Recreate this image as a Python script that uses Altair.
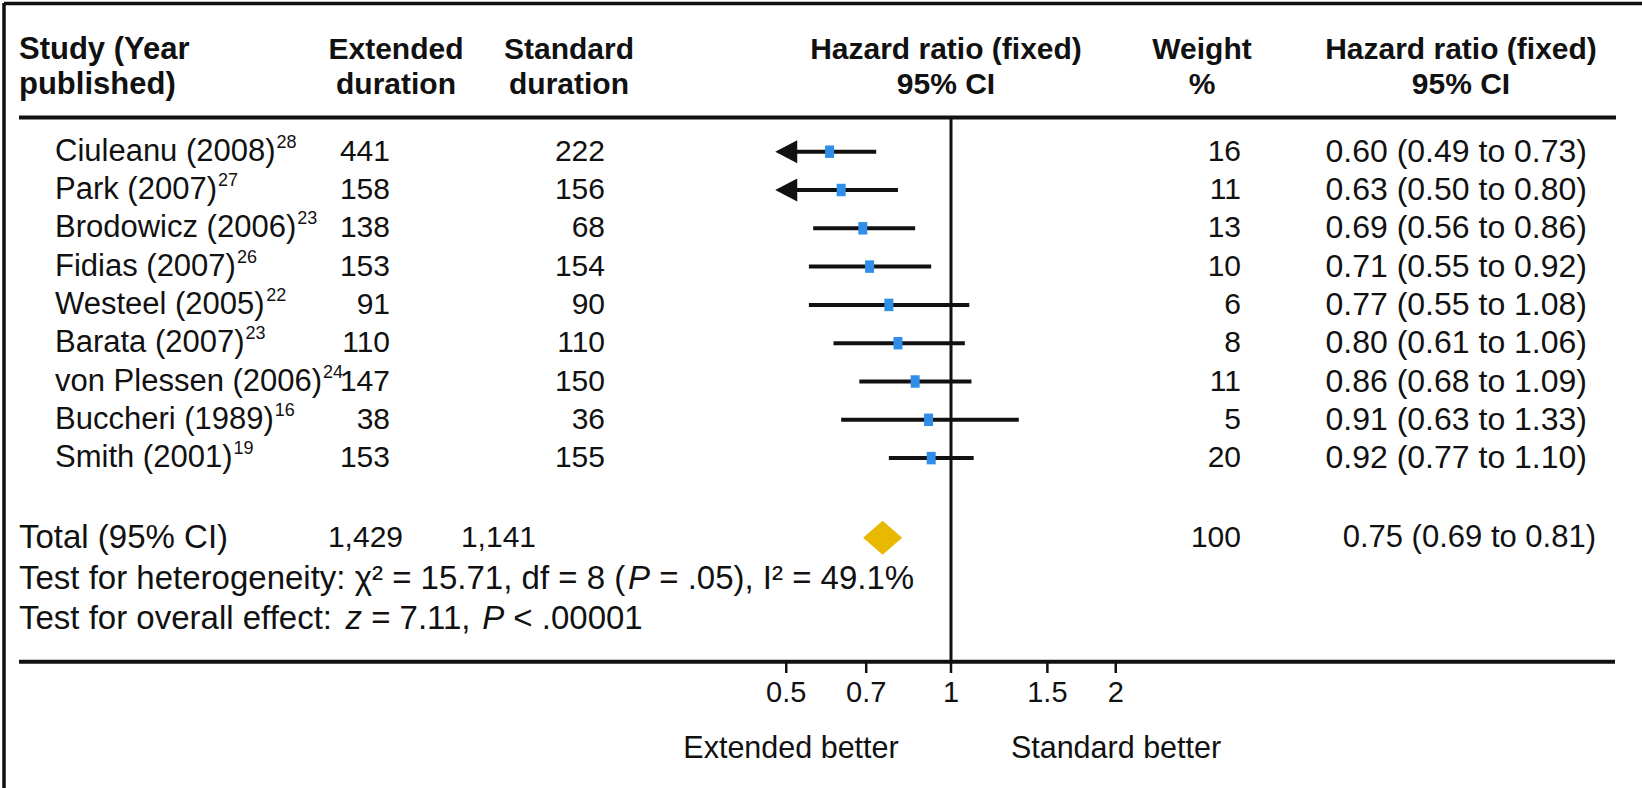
import math
import altair as alt
import pandas as pd

# ---------------- data ----------------
study_names = ["Ciuleanu (2008)", "Park (2007)", "Brodowicz (2006)", "Fidias (2007)",
               "Westeel (2005)", "Barata (2007)", "von Plessen (2006)", "Buccheri (1989)",
               "Smith (2001)"]
study_refs = ["28", "27", "23", "26", "22", "23", "24", "16", "19"]
extended_n = ["441", "158", "138", "153", "91", "110", "147", "38", "153"]
standard_n = ["222", "156", "68", "154", "90", "110", "150", "36", "155"]
hazard = [0.60, 0.63, 0.69, 0.71, 0.77, 0.80, 0.86, 0.91, 0.92]
ci_low = [0.49, 0.50, 0.56, 0.55, 0.55, 0.61, 0.68, 0.63, 0.77]
ci_high = [0.73, 0.80, 0.86, 0.92, 1.08, 1.06, 1.09, 1.33, 1.10]
weights = ["16", "11", "13", "10", "6", "8", "11", "5", "20"]
hr_text = ["0.60 (0.49 to 0.73)", "0.63 (0.50 to 0.80)", "0.69 (0.56 to 0.86)",
           "0.71 (0.55 to 0.92)", "0.77 (0.55 to 1.08)", "0.80 (0.61 to 1.06)",
           "0.86 (0.68 to 1.09)", "0.91 (0.63 to 1.33)", "0.92 (0.77 to 1.10)"]
total_label = "Total (95% CI)"
total_ext = "1,429"
total_std = "1,141"
total_weight = "100"
total_hr = [0.75]
total_text = "0.75 (0.69 to 0.81)"
tick_values = [0.5, 0.7, 1, 1.5, 2]
tick_labels = ["0.5", "0.7", "1", "1.5", "2"]
axis_min = 0.5

# ---------------- layout ----------------
W, H = 1642, 788
ONE_PX, PX_PER_LN = 951.0, 237.7
ROW0, ROW_H = 151.7, 38.3
FONT = "Liberation Sans, Arial, Helvetica, sans-serif"
FS = 30
NAME_FS = 31
INK = "#111111"
LEFT = 19
NAME_X = 55

# Arial / Liberation Sans advance widths (per em)
AW = {" ": .278, "%": .889, "(": .333, ")": .333, ",": .278, ".": .278, ":": .278, "=": .584,
      "<": .584, "B": .667, "C": .722, "F": .611, "I": .278, "P": .667, "S": .667, "T": .611, "W": .944,
      "a": .556, "b": .556, "c": .5, "d": .556, "e": .556, "f": .278, "g": .556, "h": .556, "i": .222,
      "k": .5, "l": .222, "m": .833, "n": .556, "o": .556, "r": .333, "s": .5, "t": .278, "u": .556,
      "v": .5, "w": .722, "y": .5, "z": .5, "²": .333, "χ": .5}
def tw(s, size):
    return sum(AW.get(c, .556) for c in s) * size

xs = alt.Scale(type="log", domain=[math.exp(-ONE_PX / PX_PER_LN), math.exp((W - ONE_PX) / PX_PER_LN)],
               nice=False, zero=False)
ys = alt.Scale(domain=[-ROW0 / ROW_H, (H - ROW0) / ROW_H], reverse=True, nice=False, zero=False)

rows = list(range(len(study_names)))
df = pd.DataFrame({
    "row": rows, "study": study_names, "ref": study_refs, "ext": extended_n, "std": standard_n,
    "hr": hazard, "lo": ci_low, "hi": ci_high, "w": weights, "txt": hr_text,
})
df["arrow"] = df["lo"] <= axis_min
df["lo_draw"] = df["lo"].clip(lower=axis_min)
df["sup_x"] = [NAME_X + tw(s, NAME_FS) + 1 for s in study_names]

TOTAL_ROW, HET_ROW, OVR_ROW = 10.08, 11.15, 12.2

X = lambda f: alt.X(f, scale=xs, axis=None)
Y = lambda f: alt.Y(f, scale=ys, axis=None)

base = alt.Chart(df)

ci = base.mark_rule(strokeWidth=4, color=INK).encode(x=X("lo_draw:Q"), x2="hi:Q", y=Y("row:Q"))
arrows = base.transform_filter("datum.arrow").transform_calculate(ax=str(axis_min)).mark_point(
    shape="M -1 0 L 1 -1.05 L 1 1.05 Z", size=484, filled=True, opacity=1, color=INK
).encode(x=X("ax:Q"), y=Y("row:Q"))
squares = base.mark_point(
    shape="M -0.72 -1 L 0.72 -1 L 0.72 1 L -0.72 1 Z", size=156, filled=True, opacity=1, color="#2F8FE8"
).encode(x=X("hr:Q"), y=Y("row:Q"))

tot_df = pd.DataFrame({"hr": total_hr, "row": [TOTAL_ROW]})
diamond = alt.Chart(tot_df).mark_point(
    shape="M -1 0 L 0 -0.87 L 1 0 L 0 0.87 Z", size=1520, filled=True, opacity=1, color="#E9B800"
).encode(x=X("hr:Q"), y=Y("row:Q"))

ref = alt.Chart(pd.DataFrame({"v": [1.0]})).mark_rule(strokeWidth=3, color=INK).encode(
    x=X("v:Q"), y=alt.value(117.5), y2=alt.value(661.7))

def hline(x1, x2, y, sw):
    return alt.Chart(pd.DataFrame({"a": [0]})).mark_rule(strokeWidth=sw, color=INK).encode(
        x=alt.value(x1), x2=alt.value(x2), y=alt.value(y))

def vline(x, y1, y2, sw):
    return alt.Chart(pd.DataFrame({"a": [0]})).mark_rule(strokeWidth=sw, color=INK).encode(
        x=alt.value(x), y=alt.value(y1), y2=alt.value(y2))

frame = [vline(4, 3, H, 3.5), hline(4, W, 3.5, 3.5), hline(LEFT, 1616, 117.5, 4), hline(LEFT, 1615, 661.7, 4)]

tick_df = pd.DataFrame({"v": tick_values, "lab": tick_labels})
ticks = alt.Chart(tick_df).mark_rule(strokeWidth=2.5, color=INK).encode(
    x=X("v:Q"), y=alt.value(662), y2=alt.value(673))
tick_text = alt.Chart(tick_df).mark_text(font=FONT, fontSize=29, color=INK, baseline="middle").encode(
    x=X("v:Q"), y=alt.value(693), text="lab:N")

def col_text(field, x, align, size=FS):
    return base.mark_text(font=FONT, fontSize=size, color=INK, align=align, baseline="middle").encode(
        x=alt.value(x), y=Y("row:Q"), text=f"{field}:N")

sups = base.mark_text(font=FONT, fontSize=18, color=INK, align="left", baseline="middle", dy=-9).encode(
    x=alt.X("sup_x:Q", scale=None, axis=None), y=Y("row:Q"), text="ref:N")

cols = [col_text("study", NAME_X, "left", NAME_FS), sups, col_text("ext", 390, "right"),
        col_text("std", 605, "right"), col_text("w", 1241, "right"), col_text("txt", 1587, "right", 32)]

def free_text(s, x, y, align="left", bold=False, italic=False, size=FS, row=None):
    d = pd.DataFrame({"t": [s], "row": [row if row is not None else 0]})
    kw = dict(font=FONT, fontSize=size, color=INK, align=align, baseline="middle")
    if bold:
        kw["fontWeight"] = "bold"
    if italic:
        kw["fontStyle"] = "italic"
    enc = dict(x=alt.value(x), text="t:N")
    enc["y"] = Y("row:Q") if row is not None else alt.value(y)
    return alt.Chart(d).mark_text(**kw).encode(**enc)

headers = [
    free_text("Study (Year", LEFT, 50, bold=True, size=31), free_text("published)", LEFT, 85, bold=True, size=31),
    free_text("Extended", 396, 50, "center", True), free_text("duration", 396, 85, "center", True),
    free_text("Standard", 569, 50, "center", True), free_text("duration", 569, 85, "center", True),
    free_text("Hazard ratio (fixed)", 946, 50, "center", True), free_text("95% CI", 946, 85, "center", True),
    free_text("Weight", 1202, 50, "center", True), free_text("%", 1202, 85, "center", True),
    free_text("Hazard ratio (fixed)", 1461, 50, "center", True), free_text("95% CI", 1461, 85, "center", True),
]

totals = [
    free_text(total_label, LEFT, 0, row=TOTAL_ROW, size=33), free_text(total_ext, 403, 0, "right", row=TOTAL_ROW),
    free_text(total_std, 536, 0, "right", row=TOTAL_ROW), free_text(total_weight, 1241, 0, "right", row=TOTAL_ROW),
    free_text(total_text, 1596, 0, "right", row=TOTAL_ROW, size=31),
]

FOOT = 33
def seg_line(parts, row, x0=LEFT):
    out, x = [], x0
    for s, it in parts:
        lead = len(s) - len(s.lstrip(" "))
        core = s.strip(" ")
        out.append(free_text(core, x + lead * AW[" "] * FOOT, 0, italic=it, row=row, size=FOOT))
        x += tw(s, FOOT)
    return out

footer = seg_line([("Test for heterogeneity: χ² = 15.71, df = 8 (", False), ("P", True),
                   (" = .05), I² = 49.1%", False)], HET_ROW) + \
         seg_line([("Test for overall effect: ", False), ("z", True), (" = 7.11, ", False), ("P", True),
                   (" < .00001", False)], OVR_ROW)

better = [free_text("Extended better", 791, 749, "center", size=30.5),
          free_text("Standard better", 1116, 749, "center", size=30.5)]

chart = alt.layer(
    *frame, ref, ci, arrows, squares, diamond, ticks, tick_text, *cols, *headers, *totals, *footer, *better
).properties(width=W, height=H, padding=0, autosize=alt.AutoSizeParams(type="none"), background="white"
).configure_view(stroke=None)

chart.save("out.html", embed_options={"renderer": "svg", "actions": False})
